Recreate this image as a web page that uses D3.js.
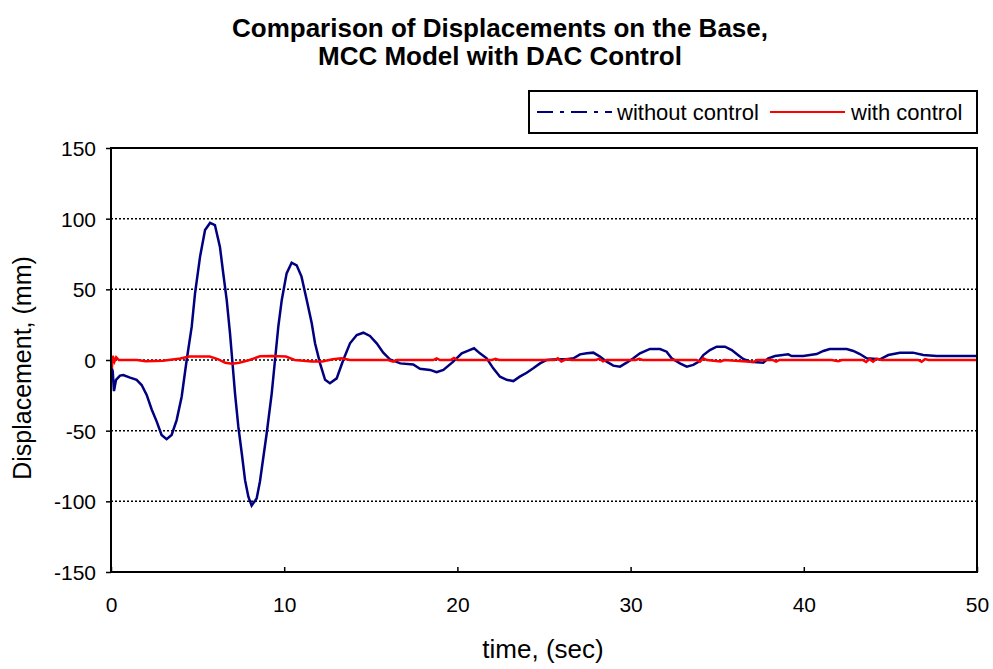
<!DOCTYPE html>
<html>
<head>
<meta charset="utf-8">
<script src="https://cdn.jsdelivr.net/npm/d3@7"></script>
<style>
body { margin: 0; background: #fff; }
svg text { font-family: "Liberation Sans", Arial, sans-serif; fill: #000; }
</style>
</head>
<body>
<svg id="chart" width="993" height="669"></svg>
<script>
// Displacement on the base
var titleLines = ['Comparison of Displacements on the Base,', 'MCC Model with DAC Control'];
var seriesNames = ['without control', 'with control'];
var xTicks = [0, 10, 20, 30, 40, 50];
var yTicks = [150, 100, 50, 0, -50, -100, -150];

// without control: [time (sec), displacement (mm)]
var withoutControl = [
	[0, -4], [0.1, -8], [0.17, -22], [0.29, -14], [0.52, -11], [0.71, -10.6], [1.1, -12.5],
	[1.48, -14], [1.77, -17.7], [2.06, -24.7], [2.35, -35], [2.64, -43.6], [2.92, -53],
	[3.21, -56], [3.5, -53], [3.79, -42.5], [4.08, -26], [4.37, 0], [4.66, 23.6], [4.85, 47],
	[5.14, 73], [5.43, 92], [5.72, 97], [6.0, 95.5], [6.29, 80], [6.48, 61.4], [6.68, 42.5],
	[6.87, 19], [7.0, 0], [7.16, -23.6], [7.35, -47], [7.55, -66], [7.74, -85], [7.93, -96.7],
	[8.12, -103], [8.41, -98], [8.6, -86], [8.99, -51.8], [9.28, -23.6], [9.47, 0],
	[9.66, 23.6], [9.86, 42.5], [10.14, 61.3], [10.43, 68.9], [10.72, 67], [11.0, 59],
	[11.3, 42.5], [11.59, 26], [11.78, 11.8], [12.07, -2.4], [12.36, -14], [12.64, -16.5],
	[13.03, -13], [13.41, 0], [13.8, 11.8], [14.19, 17.7], [14.57, 19.3], [14.95, 17],
	[15.34, 11.8], [15.72, 5.2], [16.1, 0.5], [16.7, -2.4], [17.45, -3.2], [17.84, -6.2],
	[18.42, -7], [18.8, -8.7], [19.19, -7], [19.76, -1.2], [20.25, 4.7], [20.63, 6.6],
	[20.96, 8.3], [21.3, 4.7], [21.69, 1.2], [22.07, -5.9], [22.46, -11.8], [22.85, -14],
	[23.23, -14.9], [23.6, -11.8], [24.0, -9], [24.38, -5.9], [24.77, -2.4], [25.16, 0],
	[25.73, 0.5], [26.3, 0.5], [26.7, 1.2], [27.08, 4], [27.47, 4.7], [27.85, 5.2],
	[28.23, 2.4], [28.62, -1.2], [29.0, -4], [29.39, -4.7], [29.77, -1.9], [30.16, 1.2],
	[30.54, 4.7], [31.12, 7.8], [31.7, 7.8], [32.08, 5.9], [32.37, 1.2], [32.85, -2.4],
	[33.24, -4.7], [33.62, -3.5], [33.9, -1.5], [34.2, 3.5], [34.58, 7], [34.97, 9.4],
	[35.45, 9.4], [35.84, 7], [36.2, 3.5], [36.5, 0.7], [36.9, -1.2], [37.66, -1.9],
	[37.95, 1.2], [38.34, 2.8], [39.1, 4], [39.3, 2.8], [39.97, 2.8], [40.74, 4.2],
	[41.13, 6.4], [41.5, 7.8], [42.48, 7.8], [42.86, 6.4], [43.24, 4.2], [43.63, 1.2],
	[44.4, 0.5], [44.88, 3.5], [45.55, 5.2], [46.3, 5.2], [46.9, 3.5], [47.67, 2.8],
	[48.83, 2.8], [50, 2.8]
];

// with control: [time (sec), displacement (mm)]
var withControl = [
	[0, 0], [0.05, -6], [0.1, 3], [0.2, -1], [0.3, 2], [0.45, 0], [1.5, 0], [2.0, -0.8],
	[3.0, -0.5], [4.0, 1], [4.5, 2.4], [5.7, 2.4], [6.2, 0.5], [6.6, -2], [7.0, -2.6],
	[7.4, -2], [8.0, 0], [8.6, 2.6], [9.3, 2.8], [10.1, 2.4], [10.6, 0], [11.6, -1],
	[12.2, -1], [12.8, 0.5], [13.3, 1.2], [13.8, 0], [16.0, 0], [16.3, -1.2], [16.5, 0],
	[18.6, 0], [18.8, 1.2], [19.0, 0], [19.6, 0], [19.8, 1.4], [20.0, 0], [22.0, 0],
	[22.2, 0.8], [22.4, 0], [25.6, 0], [25.8, 1.2], [26.0, -1], [26.3, 0.6], [26.6, 0],
	[28.0, 0], [28.2, 1], [28.4, -1], [28.6, 0], [30.3, 0], [30.5, 0.8], [30.7, 0],
	[33.8, 0], [34.0, -1.2], [34.2, 1.2], [34.4, 0], [35.2, -1], [35.4, 0], [37.1, -1.4],
	[37.3, 0], [38.2, 0], [38.4, -1.2], [38.6, 0], [40.3, 0], [41.6, 0], [42.0, -0.8],
	[42.2, 0], [43.4, 0], [43.6, -1.4], [43.8, 0.6], [44.0, -1.2], [44.2, 0.8], [44.5, 0],
	[46.6, 0], [46.8, -1.2], [47.0, 0.6], [47.2, 0], [50, 0]
];

var svg = d3.select('#chart');
var margin = { left: 111, top: 148, right: 16, bottom: 97 };
var width = 993 - margin.left - margin.right;
var height = 669 - margin.top - margin.bottom;

var x = d3.scaleLinear().domain([0, 50]).range([0, width]);
var y = d3.scaleLinear().domain([-150, 150]).range([height, 0]);

// title
svg.selectAll('text.title')
	.data(titleLines)
	.enter()
	.append('text')
	.attr('class', 'title')
	.attr('x', 500)
	.attr('y', function (d, i) { return 37 + i * 28; })
	.attr('text-anchor', 'middle')
	.style('font-size', '26px')
	.style('font-weight', 'bold')
	.text(function (d) { return d; });

var plot = svg.append('g')
	.attr('transform', 'translate(' + margin.left + ',' + margin.top + ')');

// dotted gridlines
plot.selectAll('line.grid')
	.data(yTicks.filter(function (d) { return d !== 150 && d !== -150; }))
	.enter()
	.append('line')
	.attr('class', 'grid')
	.attr('x1', 0)
	.attr('x2', width)
	.attr('y1', function (d) { return y(d); })
	.attr('y2', function (d) { return y(d); })
	.style('stroke', '#000')
	.style('stroke-width', 1.5)
	.style('stroke-dasharray', '2,2');

var yAxis = d3.axisLeft(y)
	.tickValues(yTicks)
	.tickFormat(function (d) { return String(d); })
	.tickSize(5)
	.tickPadding(10);
var yg = plot.append('g').call(yAxis);
yg.select('.domain').remove();
yg.selectAll('line').style('stroke-width', 1.5);
yg.selectAll('text').style('font-size', '21px').attr('dy', '0.35em');

var xAxis = d3.axisBottom(x).tickValues(xTicks).tickSize(-5).tickPadding(0);
var xg = plot.append('g').attr('transform', 'translate(0,' + height + ')').call(xAxis);
xg.select('.domain').remove();
xg.selectAll('line').style('stroke-width', 1.5);
xg.selectAll('text').style('font-size', '21px').attr('y', 40).attr('dy', null);

var line = d3.line()
	.x(function (d) { return x(d[0]); })
	.y(function (d) { return y(d[1]); });

plot.append('path')
	.datum(withoutControl)
	.attr('d', line)
	.style('fill', 'none')
	.style('stroke', '#000080')
	.style('stroke-width', 2.5);

plot.append('path')
	.datum(withControl)
	.attr('d', line)
	.style('fill', 'none')
	.style('stroke', '#ff0000')
	.style('stroke-width', 2.5);

// plot frame
plot.append('rect')
	.attr('x', 0)
	.attr('y', 0)
	.attr('width', width)
	.attr('height', height)
	.style('fill', 'none')
	.style('stroke', '#000')
	.style('stroke-width', 2);

// axis titles
svg.append('text')
	.attr('x', 543)
	.attr('y', 658)
	.attr('text-anchor', 'middle')
	.style('font-size', '26px')
	.text('time, (sec)');

svg.append('text')
	.attr('transform', 'translate(31,368) rotate(-90)')
	.attr('text-anchor', 'middle')
	.style('font-size', '25px')
	.text('Displacement, (mm)');

// legend
var legend = svg.append('g').attr('transform', 'translate(529,91)');
legend.append('rect')
	.attr('width', 448)
	.attr('height', 42)
	.style('fill', '#fff')
	.style('stroke', '#000')
	.style('stroke-width', 2);

var legendItems = [
	{ name: seriesNames[0], color: '#000080', dash: '16,7,4,7', x0: 8, tx: 88 },
	{ name: seriesNames[1], color: '#ff0000', dash: null, x0: 241, tx: 322 }
];

legendItems.forEach(function (item) {
	legend.append('line')
		.attr('x1', item.x0)
		.attr('x2', item.x0 + 75)
		.attr('y1', 21)
		.attr('y2', 21)
		.style('stroke', item.color)
		.style('stroke-width', 2)
		.style('stroke-dasharray', item.dash);
	legend.append('text')
		.attr('x', item.tx)
		.attr('y', 29)
		.style('font-size', '22px')
		.text(item.name);
});
</script>
</body>
</html>
